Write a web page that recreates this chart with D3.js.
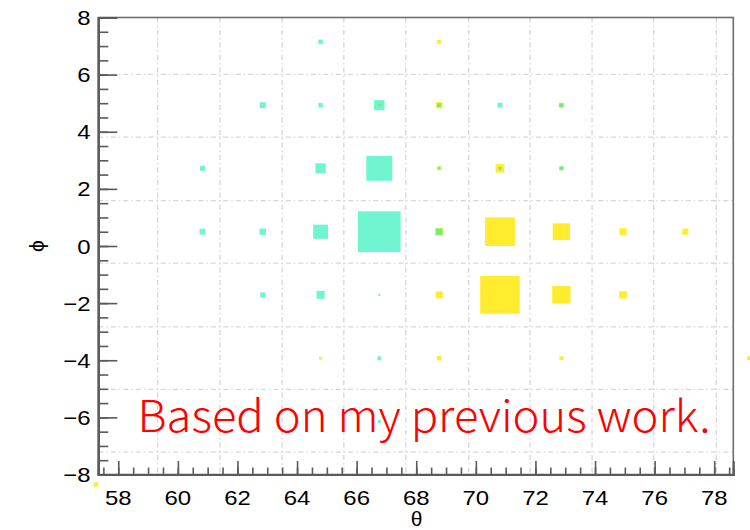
<!DOCTYPE html>
<html>
<head>
<meta charset="utf-8">
<script src="https://cdn.jsdelivr.net/npm/d3@7"></script>
<style>
  body { margin: 0; background: #fff; }
  svg { display: block; }
</style>
</head>
<body>
<svg id="chart" width="750" height="530"></svg>
<script>
// ---- axis ranges and ticks ----
const thetaDomain = [57.33, 78.64];
const phiDomain = [-8, 8];
const thetaTicks = [58, 60, 62, 64, 66, 68, 70, 72, 74, 76, 78];
const phiTicks = [8, 6, 4, 2, 0, -2, -4, -6, -8];

// grid line positions (bin edges of the overlaid frame)
const gridTheta = [59.32, 61.41, 63.50, 65.57, 67.65, 69.76, 71.82, 73.90, 75.97, 78.07];
const gridPhi = [6.01, 3.81, 1.59, -0.60, -2.83, -5.02, -7.22];

// ---- cyan histogram (bin centre theta, phi, content) ----
const cyanTheta = [64.79,
  62.85, 64.79, 66.76, 68.77, 70.81, 72.87,
  60.83, 64.79, 66.76, 68.77, 70.81, 72.87,
  60.83, 62.85, 64.79, 66.76, 68.77,
  62.85, 64.79, 66.76,
  66.76,
  66.76];
const cyanPhi = [7.15,
  4.93, 4.93, 4.93, 4.93, 4.93, 4.93,
  2.72, 2.72, 2.72, 2.72, 2.72, 2.72,
  0.50, 0.50, 0.50, 0.50, 0.50,
  -1.71, -1.71, -1.71,
  -3.93,
  -6.14];
const cyanCount = [7,
  9.3, 7, 16, 6.2, 7.8, 6.2,
  7.8, 15.8, 39.7, 4.7, 4.7, 6.2,
  9.3, 10, 22.6, 65, 10,
  7.8, 12.5, 3.5,
  6.2,
  4.7];

// ---- yellow histogram ----
const yellowTheta = [68.77,
  66.76, 68.77, 72.87,
  68.77, 70.81, 72.87,
  68.77, 70.81, 72.87, 74.94, 77.03,
  68.77, 70.81, 72.87, 74.94,
  64.79, 68.77, 72.87, 79.17,
  57.25];
const yellowPhi = [7.15,
  4.93, 4.93, 4.93,
  2.72, 2.72, 2.72,
  0.50, 0.50, 0.50, 0.50, 0.50,
  -1.71, -1.71, -1.71, -1.71,
  -3.93, -3.93, -3.93, -3.93,
  -8.35];
const yellowCount = [6.2,
  4.7, 10, 7.8,
  6.2, 13.3, 6.2,
  12.5, 45.4, 26.5, 10.9, 9.4,
  10.9, 60.3, 28, 11.7,
  4.7, 7, 6.2, 6.2,
  7];

const binSize = 2.2;     // bin width in both theta and phi
const countMax = 100;    // content that fills a whole bin

const svg = d3.select("#chart");
const frame = { left: 98.3, right: 733.3, top: 17.5, bottom: 474.5 };

const x = d3.scaleLinear().domain(thetaDomain).range([frame.left, frame.right]);
const y = d3.scaleLinear().domain(phiDomain).range([frame.bottom, frame.top]);
const side = d3.scaleLinear().domain([0, countMax]).range([0, binSize]);

// ---- grid ----
const grid = svg.append("g").attr("stroke", "#d6d6d6").attr("stroke-width", 1.3)
  .attr("stroke-dasharray", "5,3,1.5,3").attr("fill", "none");
grid.selectAll("line.gx").data(gridTheta).join("line").attr("class", "gx")
  .attr("x1", d => x(d)).attr("x2", d => x(d)).attr("y1", frame.top).attr("y2", frame.bottom);
grid.selectAll("line.gy").data(gridPhi).join("line").attr("class", "gy")
  .attr("x1", frame.left).attr("x2", frame.right).attr("y1", d => y(d)).attr("y2", d => y(d));

// ---- boxes ----
function drawBoxes(theta, phi, count, fill, opacity) {
  const rows = theta.map((t, i) => ({ t, p: phi[i], c: count[i] }));
  svg.append("g").selectAll("rect").data(rows).join("rect")
    .attr("x", d => x(d.t - side(d.c) / 2))
    .attr("y", d => y(d.p + side(d.c) / 2))
    .attr("width", d => x(d.t + side(d.c) / 2) - x(d.t - side(d.c) / 2))
    .attr("height", d => y(d.p - side(d.c) / 2) - y(d.p + side(d.c) / 2))
    .attr("fill", fill)
    .attr("fill-opacity", opacity);
}
drawBoxes(yellowTheta, yellowPhi, yellowCount, "#ffec2e", 1);
drawBoxes(cyanTheta, cyanPhi, cyanCount, "rgb(17,238,177)", 0.6);

// ---- frame ----
svg.append("rect").attr("x", frame.left).attr("y", frame.top)
  .attr("width", frame.right - frame.left).attr("height", frame.bottom - frame.top)
  .attr("fill", "none").attr("stroke", "#6e6e6e").attr("stroke-width", 1.6);

// ---- axes (ticks point into the frame) ----
const tickFont = "'Liberation Sans', Arial, Helvetica, sans-serif";

const xAxis = d3.axisTop(x).tickValues(thetaTicks).tickSize(13.5).tickFormat("");
const xMinor = d3.axisTop(x).tickValues(d3.range(57.5, 78.6, 0.5)).tickSize(7).tickFormat("");
const gxMinor = svg.append("g").attr("transform", `translate(0,${frame.bottom})`).call(xMinor);
const gx = svg.append("g").attr("transform", `translate(0,${frame.bottom})`).call(xAxis);

const yAxis = d3.axisRight(y).tickValues(phiTicks).tickSize(19).tickFormat("");
const yMinor = d3.axisRight(y).tickValues(d3.range(-8, 8.01, 0.5)).tickSize(10).tickFormat("");
const gyMinor = svg.append("g").attr("transform", `translate(${frame.left},0)`).call(yMinor);
const gy = svg.append("g").attr("transform", `translate(${frame.left},0)`).call(yAxis);

[gx, gxMinor, gy, gyMinor].forEach(g => {
  g.select(".domain").attr("stroke", "#5a5a5a").attr("stroke-width", 2);
  g.selectAll(".tick line").attr("stroke", "#5a5a5a").attr("stroke-width", 1.6);
});

// labels are set in a slightly wide face: stretch glyphs horizontally
function widen(sel, factor) {
  sel.each(function () {
    const w = this.getComputedTextLength();
    d3.select(this).attr("textLength", w * factor).attr("lengthAdjust", "spacingAndGlyphs");
  });
}

// tick labels
const xLabels = svg.append("g").selectAll("text").data(thetaTicks).join("text")
  .attr("x", d => x(d)).attr("y", 504.5)
  .attr("text-anchor", "middle")
  .attr("font-family", tickFont).attr("font-size", 21).attr("fill", "#000")
  .text(d => d3.format("d")(d));
widen(xLabels, 1.14);

const yLabels = svg.append("g").selectAll("text").data(phiTicks).join("text")
  .attr("x", 90.5).attr("y", d => y(d))
  .attr("dy", "0.36em")
  .attr("text-anchor", "end")
  .attr("font-family", tickFont).attr("font-size", 21).attr("fill", "#000")
  .text(d => d3.format("d")(d));
widen(yLabels, 1.14);

// axis titles
svg.append("text")
  .attr("x", 416.5).attr("y", 526)
  .attr("text-anchor", "middle")
  .attr("font-family", tickFont).attr("font-size", 21)
  .text("θ");

svg.append("text")
  .attr("transform", "translate(36,246) rotate(-90)")
  .attr("text-anchor", "middle").attr("dy", "0.36em")
  .attr("font-family", tickFont).attr("font-size", 21)
  .text("ϕ");

// annotation
svg.append("text")
  .attr("x", 137.5).attr("y", 431.5)
  .attr("font-family", "'Noto Sans CJK SC', 'Noto Sans', sans-serif")
  .attr("font-weight", 300)
  .attr("font-size", 44)
  .attr("fill", "#ff0000")
  .attr("textLength", 573)
  .attr("lengthAdjust", "spacingAndGlyphs")
  .text("Based on my previous work.");
</script>
</body>
</html>
